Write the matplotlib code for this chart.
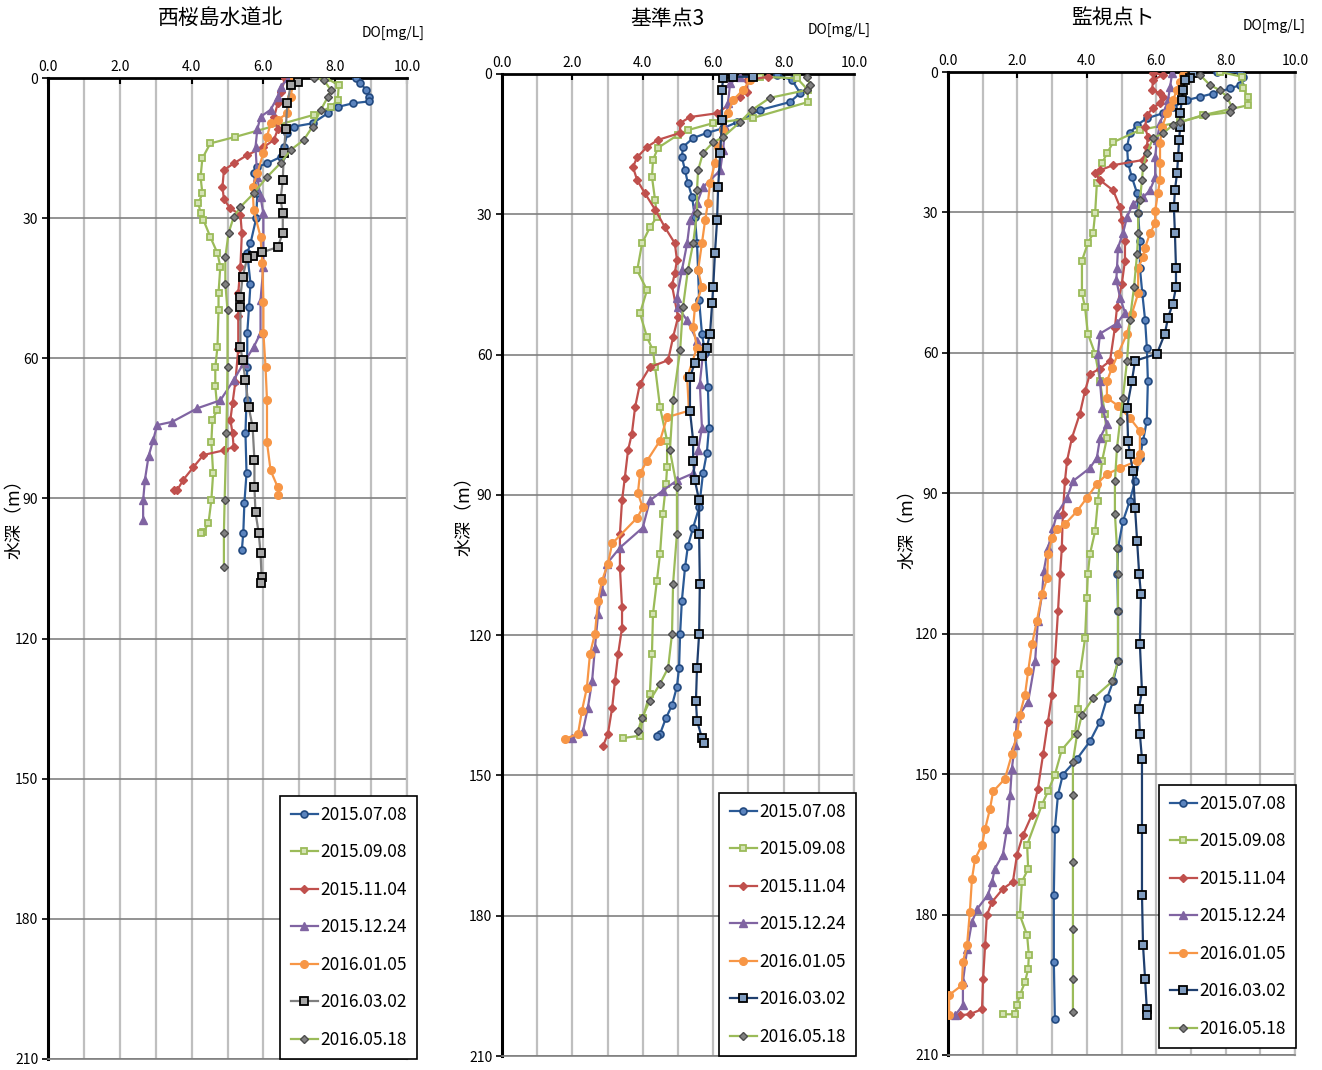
import matplotlib

matplotlib.use("Agg")
import matplotlib.pyplot as plt
import numpy as np

plt.rcParams["font.family"] = ["Noto Sans CJK JP", "DejaVu Sans"]

DATES = ["2015.07.08", "2015.09.08", "2015.11.04", "2015.12.24",
         "2016.01.05", "2016.03.02", "2016.05.18"]
TITLES = ["西桜島水道北", "基準点3", "監視点ト"]
X_TICKS = [0, 2, 4, 6, 8, 10]
Y_TICKS = [0, 30, 60, 90, 120, 150, 180, 210]

# (depth m, DO mg/L)
# --- 西桜島水道北 ---
P1_0708 = [(0, 8.58), (1, 8.7), (2.5, 8.85), (4, 8.95), (5, 8.95), (5.4, 8.5), (6.2, 8.07),
           (7.5, 7.8), (9.7, 7.37), (10.4, 6.85), (11.8, 6.67), (14.8, 6.57), (16.9, 6.48),
           (18.3, 6.1), (19, 5.83), (20.4, 5.73), (24.7, 5.83), (30, 5.8), (35.4, 5.64),
           (37.5, 5.55), (44, 5.64), (49, 5.6), (54.6, 5.55), (61.9, 5.55), (69, 5.53),
           (76, 5.5), (84.6, 5.53), (91, 5.47), (97.4, 5.44), (101, 5.4)]
P1_0908 = [(0, 7.74), (1.5, 8.1), (4.7, 8.07), (6.2, 7.88), (7.9, 7.4), (12.6, 5.22),
           (14, 4.52), (17.2, 4.3), (21.2, 4.25), (24.7, 4.3), (26.8, 4.19), (29, 4.25),
           (30.4, 4.33), (34, 4.52), (37.5, 4.72), (40.4, 4.8), (46, 4.75), (49.7, 4.75),
           (57.6, 4.72), (61.9, 4.66), (66, 4.66), (71, 4.72), (73.2, 4.58), (78, 4.55),
           (84.6, 4.6), (90.4, 4.55), (95.3, 4.47), (97.2, 4.33), (97.4, 4.25)]
P1_1104 = [(0, 6.6), (3, 6.5), (5.4, 6.4), (8.3, 6.3), (11, 6.4), (13.3, 6.29), (14.8, 6.0),
           (16.5, 5.55), (18.3, 5.17), (19.7, 4.9), (23.3, 4.86), (26, 4.9), (27.9, 5.08),
           (29.3, 5.36), (33.2, 5.4), (40.4, 5.36), (46, 5.3), (51, 5.3), (58, 5.3),
           (65, 5.22), (69.6, 5.14), (73.2, 5.08), (76, 5.14), (79, 5.17), (79.7, 4.9),
           (80.7, 4.33), (83.3, 4.05), (86, 3.77), (88.2, 3.6), (88.3, 3.5)]
P1_1224 = [(0, 6.7), (1.9, 6.48), (4, 6.4), (6.8, 6.2), (8.3, 5.92), (11, 5.83), (14.8, 5.78),
           (21.2, 5.83), (25.5, 5.92), (29, 6.0), (40.4, 6.0), (47.5, 5.92), (54.6, 5.92),
           (57.6, 5.73), (61, 5.45), (64.7, 5.17), (69, 4.8), (70.7, 4.16), (73.6, 3.46),
           (74.3, 3.04), (77.5, 2.93), (81, 2.8), (86, 2.7), (90.4, 2.65), (94.6, 2.65)]
P1_0105 = [(0, 6.85), (4, 6.76), (7.5, 6.67), (9, 6.4), (9.7, 6.2), (12.6, 6.1), (16, 6.0),
           (20.4, 5.83), (23.3, 5.7), (28.3, 5.73), (34, 5.92), (39.6, 5.97), (48, 6.0),
           (54.6, 6.0), (61.9, 6.06), (69, 6.1), (78, 6.1), (84, 6.2), (87.6, 6.4), (89.3, 6.42)]
P1_0302 = [(0.8, 6.95), (1.5, 6.76), (5.4, 6.67), (11, 6.62), (16, 6.57), (21.8, 6.54),
           (26, 6.48), (29, 6.54), (33.2, 6.54), (36.2, 6.4), (37.3, 5.97), (38, 5.7),
           (38.5, 5.55), (42.6, 5.42), (46.9, 5.36), (49, 5.36), (57.6, 5.36), (60.4, 5.42),
           (64.7, 5.5), (70.4, 5.59), (74.7, 5.7), (81.8, 5.75), (87.6, 5.75), (93, 5.78),
           (97.4, 5.87), (101.7, 5.92), (106.8, 5.95), (108, 5.92)]
P1_0518 = [(0, 7.4), (0.4, 7.68), (2.6, 7.88), (4, 7.8), (6.8, 7.6), (10.4, 7.37),
           (13.3, 7.12), (15.4, 6.76), (18.2, 6.48), (21.2, 6.1), (24.7, 5.73), (27.6, 5.36),
           (29.8, 5.17), (33.2, 5.03), (38.3, 4.94), (44, 4.94), (49.7, 5.0), (61.9, 5.0),
           (76, 4.97), (90.4, 4.92), (97.4, 4.9), (104.7, 4.9)]

# --- 基準点3 ---
P2_0708 = [(0.2, 7.81), (1.3, 8.24), (4.1, 8.47), (6, 8.18), (7.7, 7.33), (10.3, 6.68),
           (11.6, 6.28), (12.6, 5.82), (13.7, 5.43), (15.6, 5.14), (17.8, 5.11), (20.6, 5.2),
           (23.3, 5.28), (26.3, 5.4), (30.6, 5.48), (36.2, 5.54), (42, 5.57), (48.4, 5.6),
           (55.5, 5.68), (59.7, 5.77), (67, 5.85), (75.6, 5.88), (81, 5.82), (85.4, 5.71),
           (92.7, 5.6), (97, 5.43), (101, 5.28), (105.5, 5.2), (112.6, 5.11), (119.7, 5.06),
           (127, 5.03), (131, 4.97), (135, 4.83), (137.7, 4.66), (141.1, 4.49), (141.5, 4.4)]
P2_0908 = [(0.6, 7.33), (0.9, 8.38), (3.4, 8.69), (6, 8.69), (9.4, 7.13), (10.5, 6.0),
           (12, 5.28), (13, 5.0), (15.8, 4.43), (18.4, 4.29), (22, 4.26), (27, 4.35),
           (30.6, 4.4), (32.8, 4.2), (36.2, 3.98), (42, 3.84), (46.2, 4.12), (51.2, 3.92),
           (56.3, 4.12), (59.1, 4.29), (62.7, 4.35), (71.3, 4.49), (78.4, 4.69), (84.1, 4.69),
           (87.6, 4.66), (94, 4.57), (102.6, 4.49), (108.4, 4.4), (115.4, 4.29), (124, 4.26),
           (132.5, 4.2), (137.7, 4.0), (141.5, 3.92), (142, 3.44)]
P2_1104 = [(0.6, 7.56), (1.3, 6.96), (3.8, 6.96), (4.9, 6.76), (8.4, 6.11), (9.2, 5.34),
           (10.5, 5.06), (12.6, 5.06), (14.1, 4.43), (15.6, 4.12), (17.8, 3.84), (19.9, 3.72),
           (22.7, 3.84), (25.5, 4.06), (29, 4.35), (32.8, 4.63), (36.2, 4.91), (39.8, 4.97),
           (42.6, 4.91), (45.2, 4.83), (52, 5.0), (56.3, 4.86), (61.2, 4.72), (62.7, 4.2),
           (66.2, 3.92), (71.3, 3.78), (76.9, 3.69), (80.5, 3.58), (86.3, 3.49), (91.2, 3.41),
           (98.3, 3.35), (105.6, 3.35), (114, 3.41), (118.4, 3.41), (124, 3.3), (129.8, 3.21),
           (135.5, 3.13), (141.1, 3.01), (143.7, 2.87)]
P2_1224 = [(0.6, 6.76), (2, 6.48), (6.2, 6.42), (11.3, 6.34), (16.3, 6.28), (20.6, 6.2),
           (24.2, 5.71), (27.6, 5.54), (31.3, 5.34), (36.2, 5.26), (42, 5.11), (47.8, 4.97),
           (49.9, 5.0), (52.7, 5.26), (57, 5.54), (59.7, 5.71), (66.2, 5.62), (75.6, 5.68),
           (80.5, 5.57), (85.4, 5.43), (86.9, 4.97), (89.1, 4.57), (91.2, 4.2), (97, 4.0),
           (101.3, 3.35), (104.7, 2.98), (110.5, 2.84), (115.4, 2.73), (122.7, 2.64),
           (129.8, 2.56), (135.5, 2.44), (140.5, 2.3), (142, 1.99)]
P2_0105 = [(0, 7.13), (1.3, 7.05), (3.4, 6.85), (5.6, 6.56), (8.4, 6.42), (12, 6.28),
           (15.6, 6.14), (19, 6.05), (23.3, 5.91), (27.6, 5.85), (31.3, 5.77), (36.2, 5.68),
           (42, 5.57), (45.6, 5.68), (49.9, 5.48), (54.2, 5.43), (58.5, 5.54), (64.9, 5.26),
           (72, 5.31), (73.4, 4.69), (78.4, 4.49), (82.7, 4.12), (85.4, 3.92), (89.7, 3.86),
           (92.7, 4.0), (94.9, 3.84), (100.4, 3.13), (104.7, 3.01), (108.4, 2.84),
           (112.6, 2.73), (119.7, 2.64), (124, 2.5), (131.3, 2.41), (136.2, 2.27),
           (141.1, 2.16), (142.2, 1.79)]
P2_0302 = [(0.6, 7.13), (0.6, 6.56), (0.9, 6.28), (3.4, 6.25), (9.9, 6.25), (16.9, 6.2),
           (24.2, 6.14), (31.3, 6.11), (38.3, 6.05), (45.6, 6.0), (49, 5.97), (55.5, 5.91),
           (58.5, 5.82), (60.2, 5.68), (61.7, 5.48), (64.9, 5.34), (72, 5.34), (78.4, 5.43),
           (82.7, 5.43), (86.9, 5.48), (91.2, 5.6), (98.3, 5.6), (109, 5.62), (119.7, 5.6),
           (127, 5.54), (134, 5.51), (138.3, 5.54), (142, 5.68), (143, 5.74)]
P2_0518 = [(0.6, 8.67), (2.4, 8.75), (3.4, 8.67), (5.1, 7.61), (7.7, 7.1), (10.3, 6.76),
           (13.5, 6.28), (14.6, 6.0), (16.9, 5.71), (20.6, 5.57), (24.8, 5.54), (29.8, 5.54),
           (36.2, 5.43), (42, 5.28), (49.9, 5.14), (59.1, 5.06), (69.8, 4.86), (80.5, 4.77),
           (88.4, 4.97), (98.3, 4.97), (109, 4.86), (119.7, 4.83), (127, 4.72), (130.4, 4.49),
           (134, 4.2), (137.7, 3.98), (140.5, 3.86)]

# --- 監視点ト ---
P3_0708 = [(0, 7.75), (0, 8.42), (1, 8.5), (2.8, 8.42), (3.5, 8.13), (4.6, 7.64), (5.3, 7.26),
           (6, 6.89), (7.5, 6.48), (8.8, 6.2), (9.9, 5.73), (11.3, 5.45), (13.1, 5.24),
           (16, 5.16), (19.5, 5.19), (22.5, 5.3), (25.9, 5.45), (30.2, 5.48), (36, 5.53),
           (41.8, 5.53), (47.3, 5.6), (53, 5.68), (58.9, 5.73), (66, 5.76), (74.5, 5.73),
           (78.8, 5.62), (82.4, 5.53), (87.4, 5.39), (91.6, 5.24), (96, 5.04), (101.7, 4.9),
           (107.3, 4.88), (115.2, 4.9), (125.9, 4.9), (130.2, 4.76), (133.8, 4.58),
           (138.8, 4.38), (143, 4.09), (146.7, 3.72), (150.1, 3.31), (154.4, 3.17),
           (161.7, 3.08), (175.8, 3.05), (190.1, 3.05), (202.4, 3.08)]
P3_0908 = [(0, 7.84), (1, 8.47), (3.5, 8.5), (5.3, 8.65), (7.1, 8.65), (9.2, 7.35), (10.7, 6.69),
           (12.4, 5.53), (15, 4.76), (17.4, 4.58), (19.5, 4.44), (23.8, 4.29), (30.2, 4.24),
           (34.5, 4.18), (36.6, 4.03), (40.3, 3.86), (47.3, 3.86), (50.3, 3.95), (55.9, 4.03),
           (60.2, 4.24), (66, 4.38), (73, 4.52), (78.2, 4.58), (83.1, 4.44), (91.6, 4.32),
           (98.1, 4.24), (103, 4.09), (107.3, 4.03), (112.4, 4.0), (121, 3.95), (128.7, 3.8),
           (136, 3.75), (141.5, 3.66), (144.8, 3.28), (150.1, 3.08), (153.7, 2.88),
           (156.5, 2.71), (165.1, 2.28), (170.2, 2.31), (173, 2.13), (180.1, 2.07),
           (184.4, 2.28), (188.7, 2.33), (191.6, 2.31), (194.4, 2.22), (197.2, 2.07),
           (199.4, 1.99), (201.3, 1.93), (201.3, 1.58)]
P3_1104 = [(0.2, 5.91), (0.6, 6.2), (1.7, 5.91), (3.9, 5.88), (4.5, 6.11), (5.3, 6.2),
           (6.6, 6.11), (7.7, 5.91), (9.2, 5.73), (11.8, 5.68), (13.9, 5.76), (16, 5.73),
           (18.8, 5.62), (19.9, 4.76), (21, 4.38), (21.6, 4.24), (23.1, 4.38), (25.3, 4.76),
           (28.9, 4.96), (31.7, 5.01), (36, 5.1), (40.3, 5.1), (45.2, 5.01), (50.3, 4.87),
           (54.6, 4.81), (61.7, 4.67), (63.4, 4.38), (64.5, 4.09), (68.1, 3.95), (73, 3.8),
           (78.2, 3.57), (83.1, 3.43), (87.4, 3.37), (94.4, 3.31), (101.7, 3.28),
           (107.3, 3.23), (115.2, 3.17), (125.9, 3.08), (133, 3.0), (138.8, 2.88),
           (145.8, 2.74), (153.1, 2.59), (158.7, 2.42), (163, 2.16), (167.2, 1.99),
           (173, 1.87), (174.5, 1.58), (177.3, 1.27), (180.1, 1.12), (186.5, 1.07),
           (193.8, 1.01), (200.2, 0.98), (201.3, 0.63), (201.5, 0.35)]
P3_1224 = [(0.2, 6.46), (3.2, 6.4), (6, 6.34), (8.1, 6.25), (10.9, 6.11), (14.6, 6.02),
           (18.2, 5.97), (22.5, 5.97), (25.3, 5.82), (26.8, 5.62), (28.1, 5.33), (31, 5.16),
           (34.5, 5.04), (37.5, 4.9), (41.8, 4.87), (44.5, 4.85), (48.2, 4.96), (51.4, 5.1),
           (53.7, 4.87), (55.9, 4.38), (60.2, 4.32), (66, 4.38), (71.7, 4.44), (75.2, 4.58),
           (78.2, 4.38), (82.4, 4.29), (84.6, 4.09), (87.4, 3.6), (91, 3.43), (94.4, 3.14),
           (97.4, 3.03), (101.7, 2.88), (106.6, 2.76), (111.6, 2.71), (117.3, 2.59),
           (125.9, 2.51), (134.5, 2.31), (138.1, 1.99), (143.7, 1.93), (148.8, 1.84),
           (154.4, 1.79), (161.7, 1.7), (167.2, 1.58), (170.2, 1.35), (173, 1.27),
           (175.8, 1.15), (178.8, 0.84), (181.6, 0.69), (187.4, 0.55), (194.4, 0.43),
           (199.4, 0.43), (201.5, 0.2)]
P3_0105 = [(0.2, 7.03), (0.6, 6.77), (2.1, 6.69), (3.9, 6.6), (6, 6.48), (7.5, 6.4), (8.8, 6.31),
           (11.8, 6.17), (15.2, 6.11), (19.5, 6.11), (23.1, 6.11), (25.9, 6.05), (29.6, 5.97),
           (32.3, 5.97), (34.5, 5.82), (37.5, 5.68), (39.6, 5.62), (41.8, 5.48), (47.3, 5.48),
           (51.6, 5.3), (55.9, 5.16), (60.2, 4.9), (63.2, 4.73), (66, 4.58), (69.6, 4.58),
           (71.3, 4.9), (73.9, 5.24), (76.7, 5.53), (81.6, 5.53), (83.1, 5.45), (84.6, 4.96),
           (85.9, 4.58), (88, 4.29), (91, 4.0), (93.8, 3.72), (96.6, 3.37), (97.6, 3.14),
           (99.6, 3.0), (103, 2.88), (108.1, 2.86), (111.6, 2.71), (117.3, 2.56), (122.3, 2.42),
           (128, 2.31), (133, 2.22), (137.3, 2.07), (141.5, 1.99), (145.8, 1.84), (151, 1.64),
           (153.7, 1.3), (157.4, 1.21), (161.7, 1.07), (165.1, 0.98), (168.1, 0.78),
           (172.4, 0.69), (179.4, 0.63), (186.5, 0.55), (190.1, 0.43), (195.1, 0.4),
           (197.2, 0.03), (201.5, 0.03)]
P3_0302 = [(0.2, 7.06), (1.3, 6.97), (1.7, 6.83), (3.9, 6.77), (6, 6.74), (8.8, 6.69),
           (11.8, 6.69), (14.6, 6.66), (18.2, 6.63), (21.6, 6.6), (25.3, 6.54), (28.9, 6.51),
           (34.5, 6.54), (41.8, 6.57), (46, 6.57), (49.5, 6.48), (52.5, 6.34), (55.9, 6.25),
           (60.2, 6.02), (61.7, 5.39), (66, 5.3), (71.7, 5.16), (78.8, 5.19), (81.6, 5.24),
           (85.2, 5.33), (93.1, 5.39), (100.2, 5.45), (107.3, 5.51), (111.6, 5.56),
           (122.3, 5.53), (132.3, 5.59), (136, 5.5), (141.5, 5.53), (146.7, 5.59),
           (161.7, 5.59), (175.8, 5.59), (186.5, 5.62), (193.8, 5.68), (200.2, 5.73),
           (201.5, 5.73)]
P3_0518 = [(0.6, 7.26), (2.8, 7.55), (3.9, 7.84), (5.3, 8.04), (7.5, 8.18), (8.6, 8.13),
           (9.2, 7.41), (10.7, 6.69), (11.3, 6.48), (13.1, 6.2), (14.1, 5.91), (17.4, 5.73),
           (20.3, 5.62), (23.1, 5.59), (27.4, 5.53), (30.2, 5.48), (34.5, 5.48), (38.8, 5.45),
           (46, 5.36), (53, 5.24), (61.7, 5.16), (69.6, 5.04), (74.5, 4.96), (80.3, 4.87),
           (87.4, 4.81), (94.4, 4.81), (101.7, 4.87), (107.3, 4.9), (115.2, 4.9),
           (125.9, 4.9), (130.2, 4.73), (133.8, 4.18), (137.3, 3.86), (141.5, 3.72),
           (147.3, 3.6), (154.4, 3.6), (168.7, 3.6), (183, 3.6), (193.8, 3.6), (200.9, 3.6)]

PANELS = [
    [P1_0708, P1_0908, P1_1104, P1_1224, P1_0105, P1_0302, P1_0518],
    [P2_0708, P2_0908, P2_1104, P2_1224, P2_0105, P2_0302, P2_0518],
    [P3_0708, P3_0908, P3_1104, P3_1224, P3_0105, P3_0302, P3_0518],
]

W, H = 1322, 1070


def fx(x):
    return x / W


def fy(y):
    return 1 - y / H


# axes boxes in pixels: left, top, right, bottom
BOXES = [(48, 78, 407, 1059), (502, 74, 854, 1056), (948, 72, 1295, 1055)]
TITLE_POS = [(220, 18), (667, 19), (1113, 18)]
UNIT_POS = [(425, 33), (871, 30), (1306, 26)]
YLAB_POS = [(15, 515), (465, 512), (908, 525)]
LEG_POS = [(417, 1059), (856, 1056), (1296, 1048)]


def styles(panel):
    line0302 = "#7F7F7F" if panel == 0 else "#1F3F6E"
    face0302 = "#A6A6A6" if panel == 0 else "#7F9CC0"
    return [
        dict(color="#2B5A96", marker="o", ms=5, mfc="#5B84BE", mec="#22497F", mew=1.2),
        dict(color="#9BBB59", marker="s", ms=5, mfc="#D4E3B5", mec="#9BBB59", mew=1.3),
        dict(color="#C0504D", marker="D", ms=4, mfc="#C0504D", mec="#C0504D", mew=1.0),
        dict(color="#8064A2", marker="^", ms=5.5, mfc="#8064A2", mec="#8064A2", mew=1.0),
        dict(color="#F79646", marker="o", ms=5.5, mfc="#F79646", mec="#F79646", mew=1.0),
        dict(color=line0302, marker="s", ms=5.5, mfc=face0302, mec="#000000", mew=1.3),
        dict(color="#9BBB59", marker="D", ms=3.8, mfc="#808080", mec="#4D4D4D", mew=1.0),
    ]


fig = plt.figure(figsize=(W / 100, H / 100), dpi=100)

for i, series in enumerate(PANELS):
    l, t, r, b = BOXES[i]
    ax = fig.add_axes([fx(l), fy(b), fx(r) - fx(l), fy(t) - fy(b)])
    for k, (pts, st) in enumerate(zip(series, styles(i))):
        arr = np.asarray(pts, dtype=float)
        ax.plot(arr[:, 1], arr[:, 0], lw=1.6, label=DATES[k], zorder=3 + k, **st)

    ax.set_xlim(0, 10)
    ax.set_ylim(210, 0)
    ax.xaxis.tick_top()
    ax.set_xticks(X_TICKS)
    ax.set_xticklabels([f"{v:.1f}" for v in X_TICKS], fontsize=10)
    ax.set_xticks(np.arange(1, 10, 2), minor=True)
    ax.set_yticks(Y_TICKS)
    ax.set_yticklabels([str(v) for v in Y_TICKS], fontsize=10)
    ax.tick_params(axis="x", which="major", direction="in", length=4, width=1.5, pad=3)
    ax.tick_params(axis="x", which="minor", length=0)
    ax.tick_params(axis="y", direction="out", length=4, width=1.2, pad=3)
    ax.grid(axis="x", which="both", color="#BFBFBF", lw=1.6)
    ax.grid(axis="y", which="major", color="#808080", lw=1.2)
    ax.set_axisbelow(True)
    ax.spines["left"].set_linewidth(2.2)
    ax.spines["left"].set_color("black")
    ax.spines["top"].set_linewidth(2.0)
    ax.spines["top"].set_color("black")
    ax.spines["right"].set_color("#BFBFBF")
    ax.spines["right"].set_linewidth(1.6)
    ax.spines["bottom"].set_color("#808080")
    ax.spines["bottom"].set_linewidth(1.2)

    tx, ty = TITLE_POS[i]
    fig.text(fx(tx), fy(ty), TITLES[i], ha="center", va="center", fontsize=15)
    ux, uy = UNIT_POS[i]
    fig.text(fx(ux), fy(uy), "DO[mg/L]", ha="right", va="center", fontsize=10)
    yx, yy = YLAB_POS[i]
    fig.text(fx(yx), fy(yy), "水深（m）", ha="center", va="center", rotation=90, fontsize=13)

    lx, ly = LEG_POS[i]
    leg = ax.legend(loc="lower right", bbox_to_anchor=(fx(lx), fy(ly)),
                    bbox_transform=fig.transFigure, borderaxespad=0, fontsize=12.5,
                    labelspacing=1.12, handlelength=1.6, handletextpad=0.1,
                    borderpad=0.6, fancybox=False, framealpha=1, edgecolor="black")
    leg.get_frame().set_linewidth(1.2)
    leg.set_zorder(20)

fig.savefig("out.png", dpi=100)
plt.close(fig)
